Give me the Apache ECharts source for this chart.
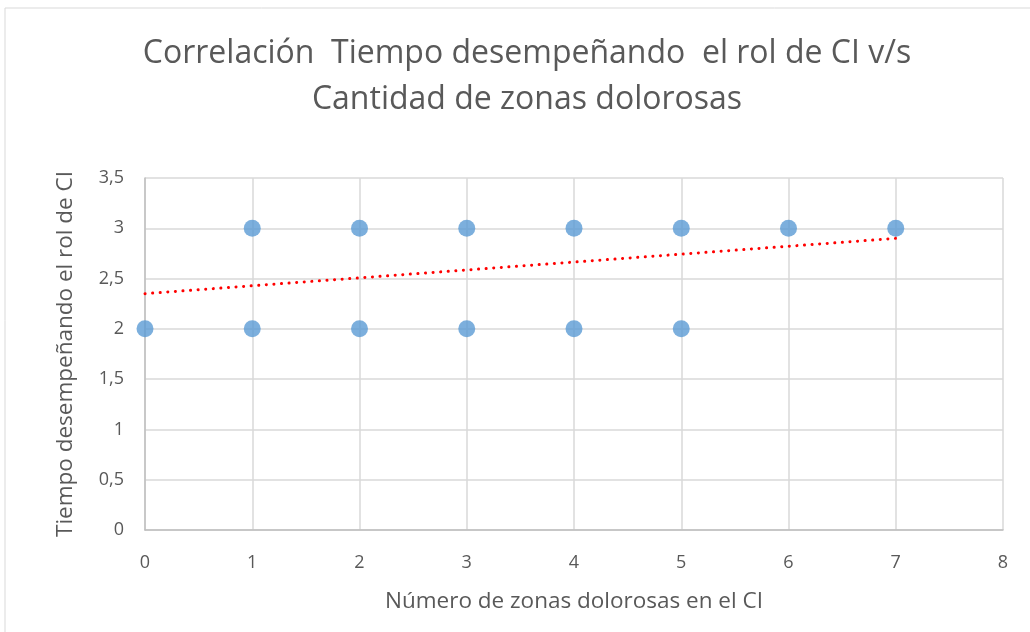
<!DOCTYPE html>
<html><head><meta charset="utf-8">
<script src="https://cdn.jsdelivr.net/npm/echarts@6/dist/echarts.min.js"></script>
<style>html,body{margin:0;padding:0;background:#fff}#c{width:1030px;height:632px}</style>
</head><body><div id="c"></div>
<script>
var titleLines = ['Correlación  Tiempo desempeñando  el rol de CI v/s', 'Cantidad de zonas dolorosas'];
var xName = 'Número de zonas dolorosas en el CI';
var yName = 'Tiempo desempeñando el rol de CI';
var xValues = [0, 1, 1, 2, 2, 3, 3, 4, 4, 5, 5, 6, 7];
var yValues = [2, 2, 3, 2, 3, 2, 3, 2, 3, 2, 3, 3, 3];
var trendX = [0, 7];
var trendY = [2.35, 2.9];
var xTicks = [0, 1, 2, 3, 4, 5, 6, 7, 8];
var yTicks = ['0', '0,5', '1', '1,5', '2', '2,5', '3', '3,5'];

var pts = xValues.map(function(x, i){ return [x, yValues[i]]; });
var trend = trendX.map(function(x, i){ return [x, trendY[i]]; });
var font = '"Open Sans", "Noto Sans", sans-serif';
var chart = echarts.init(document.getElementById('c'));
chart.setOption({
  backgroundColor: '#fff',
  animation: false,
  graphic: [{
    type: 'rect', shape: {x: 5, y: 8, width: 1040, height: 640},
    style: {fill: 'none', stroke: '#d9d9d9', lineWidth: 1}, silent: true
  }],
  title: {
    text: titleLines.join('\n'), left: 522, top: 26, textAlign: 'center',
    textStyle: {fontFamily: font, fontSize: 32, fontWeight: 'normal', color: '#595959', lineHeight: 46}
  },
  grid: {left: 145, right: 27, top: 178, bottom: 102},
  xAxis: {
    type: 'value', min: 0, max: 8, interval: 1,
    name: xName, nameLocation: 'middle', nameGap: 60,
    nameTextStyle: {fontFamily: font, fontSize: 22.5, color: '#595959'},
    axisLine: {show: true, lineStyle: {color: '#bfbfbf', width: 1.5}},
    axisTick: {show: false},
    axisLabel: {fontFamily: font, fontSize: 18, color: '#595959', margin: 24,
      formatter: function(v){ return xTicks.indexOf(v) >= 0 ? String(v) : ''; }},
    splitLine: {show: true, lineStyle: {color: '#d9d9d9', width: 1.5}}
  },
  yAxis: {
    type: 'value', min: 0, max: 3.5, interval: 0.5,
    name: yName, nameLocation: 'middle', nameGap: 68, nameRotate: 90,
    nameTextStyle: {fontFamily: font, fontSize: 22.5, color: '#595959'},
    axisLine: {show: true, lineStyle: {color: '#bfbfbf', width: 1.5}},
    axisTick: {show: false},
    axisLabel: {fontFamily: font, fontSize: 18, color: '#595959', margin: 21,
      formatter: function(v){ return yTicks[Math.round(v * 2)]; }},
    splitLine: {show: true, lineStyle: {color: '#d9d9d9', width: 1.5}}
  },
  series: [{
    type: 'scatter', data: pts, symbol: 'circle', symbolSize: 17,
    itemStyle: {color: '#5b9bd5'}, z: 3
  }, {
    type: 'line', data: trend, symbol: 'none', z: 4,
    lineStyle: {color: '#ff0000', width: 3, type: [0.1, 7.5], cap: 'round'}
  }]
});
</script></body></html>
